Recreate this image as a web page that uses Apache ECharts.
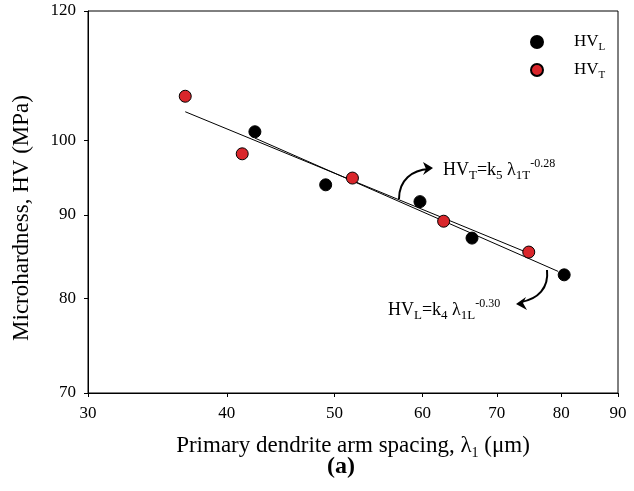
<!DOCTYPE html>
<html>
<head>
<meta charset="utf-8">
<script src="https://cdn.jsdelivr.net/npm/echarts@6/dist/echarts.min.js"></script>
<style>html,body{margin:0;padding:0;background:#fff}#c{width:634px;height:491px}</style>
</head>
<body>
<div id="c"></div>
<script>
// Data
var hvL_x = [42.4, 49.1, 59.7, 66.5, 80.5];
var hvL_y = [101.2, 93.9, 91.7, 87.1, 82.7];
var hvT_x = [36.7, 41.3, 51.9, 62.7, 74.8];
var hvT_y = [106.4, 98.1, 94.8, 89.2, 85.4];
// fitted power-law lines (end points)
var fitL_x = [42.4, 79.5];
var fitL_y = [100.3, 83.1];
var fitT_x = [36.7, 75.0];
var fitT_y = [104.1, 85.2];
var xTicks = [30, 40, 50, 60, 70, 80, 90];
var yTicks = [70, 80, 90, 100, 120];

function zip(a, b) { return a.map(function (v, i) { return [v, b[i]]; }); }

var FONT = '"Liberation Serif","DejaVu Serif",serif';
var chart = echarts.init(document.getElementById('c'));
var legRich = {
  b: { fontFamily: FONT, fontSize: 17, color: '#000', lineHeight: 22 },
  s: { fontFamily: FONT, fontSize: 11, color: '#000', verticalAlign: 'bottom', lineHeight: 12 }
};
var annRich = {
  b: { fontFamily: FONT, fontSize: 18, color: '#000', lineHeight: 24 },
  s: { fontFamily: FONT, fontSize: 13, color: '#000', verticalAlign: 'bottom', lineHeight: 14 },
  p: { fontFamily: FONT, fontSize: 12, color: '#000', verticalAlign: 'top', lineHeight: 13 }
};

chart.setOption({
  animation: false,
  backgroundColor: '#fff',
  grid: { left: 88, right: 16, top: 11, bottom: 98, show: true, borderColor: '#000', borderWidth: 1 },
  xAxis: {
    type: 'log', min: 30, max: 90,
    axisLine: { lineStyle: { color: '#000', width: 1 } },
    axisTick: { show: true, length: 4, inside: false, customValues: xTicks, lineStyle: { color: '#000' } },
    axisLabel: { customValues: xTicks, color: '#000', fontFamily: FONT, fontSize: 17, margin: 12 },
    splitLine: { show: false },
    minorTick: { show: false },
    name: '{n|Primary dendrite arm spacing, λ}{s|1}{n| (μm)}',
    nameLocation: 'middle', nameGap: 39,
    nameTextStyle: { rich: {
      n: { fontFamily: FONT, fontSize: 23, color: '#000', lineHeight: 28 },
      s: { fontFamily: FONT, fontSize: 14, color: '#000', verticalAlign: 'bottom', lineHeight: 16 }
    } }
  },
  yAxis: {
    type: 'log', min: 70, max: 120,
    axisLine: { lineStyle: { color: '#000', width: 1 } },
    axisTick: { show: true, length: 4, customValues: yTicks, lineStyle: { color: '#000' } },
    axisLabel: { customValues: yTicks, color: '#000', fontFamily: FONT, fontSize: 17, margin: 12 },
    splitLine: { show: false },
    minorTick: { show: false },
    name: 'Microhardness, HV (MPa)',
    nameLocation: 'middle', nameGap: 53, nameRotate: 90,
    nameTextStyle: { fontFamily: FONT, fontSize: 23, color: '#000', lineHeight: 26, padding: [0, 32, 0, 0] }
  },
  legend: {
    orient: 'vertical', left: 525, top: 26, itemWidth: 64, itemHeight: 12, itemGap: 6,
    data: ['HV_L', 'HV_T'],
    formatter: function (n) { return n === 'HV_L' ? '{b|HV}{s|L}' : '{b|HV}{s|T}'; },
    textStyle: { rich: legRich, lineHeight: 25 }
  },
  series: [
    { name: 'fitT', type: 'line', data: zip(fitT_x, fitT_y), symbol: 'none',
      lineStyle: { color: '#000', width: 1 }, z: 1 },
    { name: 'fitL', type: 'line', data: zip(fitL_x, fitL_y), symbol: 'none',
      lineStyle: { color: '#000', width: 1 }, z: 1 },
    { name: 'HV_L', type: 'scatter', data: zip(hvL_x, hvL_y), symbol: 'circle', symbolSize: 12,
      itemStyle: { color: '#000', borderColor: '#000', borderWidth: 1, opacity: 1 }, z: 3 },
    { name: 'HV_T', type: 'scatter', data: zip(hvT_x, hvT_y), symbol: 'circle', symbolSize: 12,
      itemStyle: { color: '#d9262b', borderColor: '#000', borderWidth: 1, opacity: 1 }, z: 3 }
  ],
  graphic: [
    { type: 'text', left: 443, top: 158, z: 10,
      style: { text: '{b|HV}{s|T}{b|=k}{s|5}{b| λ}{s|1T}{p|-0.28}', rich: annRich } },
    { type: 'text', left: 388, top: 298, z: 10,
      style: { text: '{b|HV}{s|L}{b|=k}{s|4}{b| λ}{s|1L}{p|-0.30}', rich: annRich } },
    { type: 'bezierCurve', z: 10,
      shape: { x1: 399, y1: 199, x2: 429, y2: 169, cpx1: 399, cpy1: 180, cpx2: 412, cpy2: 170 },
      style: { stroke: '#000', lineWidth: 2, fill: null } },
    { type: 'polygon', z: 10, shape: { points: [[433, 168], [423, 162], [426, 169], [423, 175]] },
      style: { fill: '#000' } },
    { type: 'bezierCurve', z: 10,
      shape: { x1: 547, y1: 270, x2: 521, y2: 302, cpx1: 549, cpy1: 288, cpx2: 538, cpy2: 299 },
      style: { stroke: '#000', lineWidth: 2, fill: null } },
    { type: 'polygon', z: 10, shape: { points: [[516, 304], [526, 297], [523, 303], [527, 310]] },
      style: { fill: '#000' } },
    { type: 'text', left: 327, top: 455, z: 10,
      style: { text: '(a)', font: 'bold 24px "Liberation Serif", serif', fill: '#000' } }
  ]
});
</script>
</body>
</html>
